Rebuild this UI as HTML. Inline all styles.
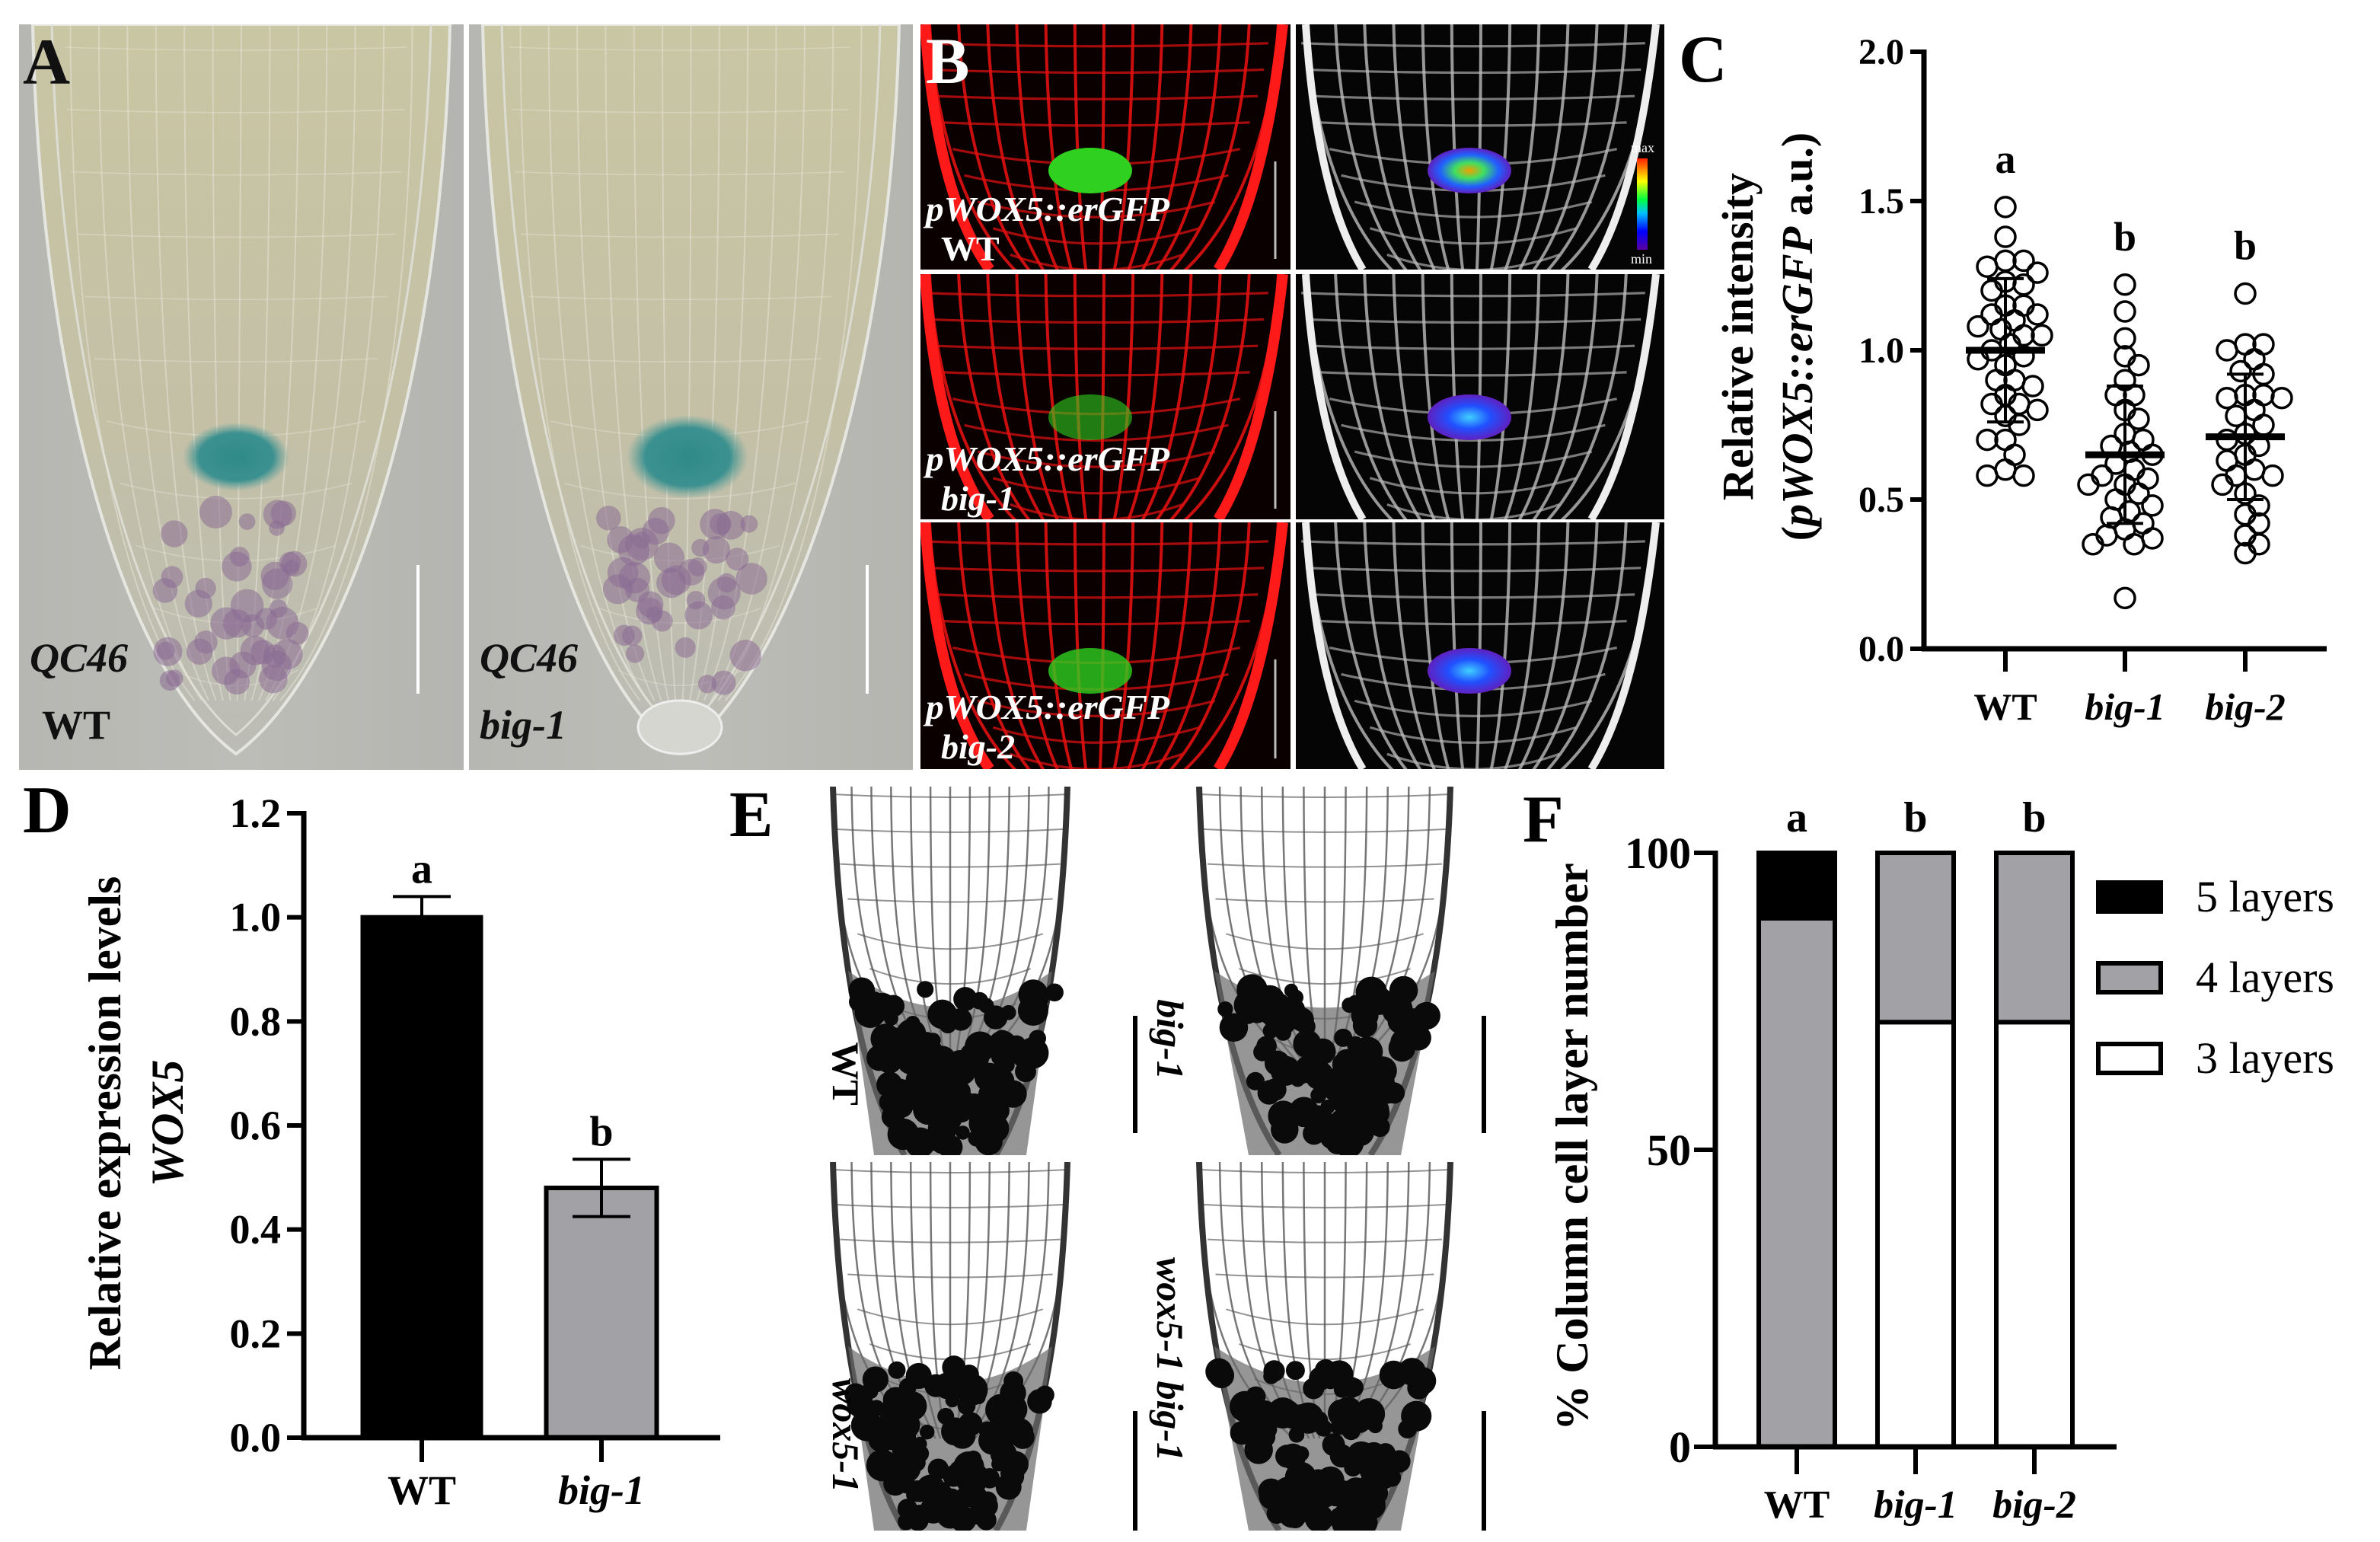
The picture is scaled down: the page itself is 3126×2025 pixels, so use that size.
<!DOCTYPE html>
<html><head><meta charset="utf-8"><style>
html,body{margin:0;padding:0;background:#fff}
svg{display:block}
text{font-family:"Liberation Serif",serif}
</style></head><body>
<svg id="fig" xmlns="http://www.w3.org/2000/svg" width="3126" height="2025" viewBox="0 0 3126 2025">
<defs>
<linearGradient id="gA" x1="0" y1="0" x2="0" y2="1"><stop offset="0" stop-color="#c9c6a4"/><stop offset="0.55" stop-color="#c3c0a6"/><stop offset="1" stop-color="#bcbcb6"/></linearGradient>
<linearGradient id="gBg" x1="0" y1="0" x2="1" y2="0"><stop offset="0" stop-color="#b6b6b2"/><stop offset="0.5" stop-color="#bdbdb8"/><stop offset="1" stop-color="#b4b4b0"/></linearGradient>
<linearGradient id="gBar" x1="0" y1="1" x2="0" y2="0"><stop offset="0" stop-color="#5a00a0"/><stop offset="0.2" stop-color="#0000ff"/><stop offset="0.4" stop-color="#00c0ff"/><stop offset="0.55" stop-color="#00ff40"/><stop offset="0.75" stop-color="#ffff00"/><stop offset="1" stop-color="#ff2000"/></linearGradient>
<radialGradient id="gQC" cx="0.5" cy="0.5" r="0.5"><stop offset="0" stop-color="#2f8a88"/><stop offset="0.7" stop-color="#3c9190"/><stop offset="1" stop-color="#5da09a" stop-opacity="0"/></radialGradient>
<radialGradient id="gRain" cx="0.5" cy="0.5" r="0.5"><stop offset="0" stop-color="#f0a000"/><stop offset="0.35" stop-color="#40e060"/><stop offset="0.7" stop-color="#2060ff"/><stop offset="1" stop-color="#6020c0"/></radialGradient>
<radialGradient id="gRain2" cx="0.5" cy="0.5" r="0.5"><stop offset="0" stop-color="#40d0ff"/><stop offset="0.5" stop-color="#2050ff"/><stop offset="1" stop-color="#6020c0"/></radialGradient>
</defs>
<g id="images"></g>
<g id="chartC"></g>
<g id="chartD"></g>
<g id="chartF"></g>
</svg>
<script>
// ---------- data ----------
const cCategories = ["WT","big-1","big-2"];
const cWT = [1.48,1.38,1.30,1.28,1.30,1.26,1.23,1.20,1.22,1.15,1.15,1.12,1.12,1.10,1.08,1.07,1.05,1.05,1.02,1.00,0.98,0.97,0.95,0.90,0.90,0.88,0.85,0.82,0.82,0.80,0.78,0.75,0.70,0.70,0.65,0.60,0.58,0.58];
const cBig1 = [1.22,1.13,1.04,0.98,0.95,0.90,0.85,0.85,0.80,0.77,0.72,0.70,0.68,0.66,0.65,0.62,0.60,0.58,0.57,0.55,0.55,0.52,0.50,0.48,0.46,0.44,0.42,0.40,0.38,0.37,0.35,0.35,0.17];
const cBig2 = [1.19,1.02,1.02,1.00,0.97,0.93,0.92,0.85,0.85,0.84,0.84,0.80,0.78,0.75,0.72,0.70,0.68,0.65,0.63,0.60,0.58,0.58,0.55,0.52,0.48,0.45,0.42,0.38,0.35,0.32];
const cMeans = [1.00,0.65,0.71];
const cSD = [0.24,0.23,0.21];
const cLetters = ["a","b","b"];
const cTicks = [0,0.5,1.0,1.5,2.0];
const cTickLabels = ["0.0","0.5","1.0","1.5","2.0"];

const dCategories = ["WT","big-1"];
const dValues = [1.0,0.48];
const dErrors = [0.04,0.055];
const dLetters = ["a","b"];
const dTicks = [0,0.2,0.4,0.6,0.8,1.0,1.2];
const dTickLabels = ["0.0","0.2","0.4","0.6","0.8","1.0","1.2"];

const fCategories = ["WT","big-1","big-2"];
const f3layers = [0,71.5,71.5];
const f4layers = [89,28.5,28.5];
const f5layers = [11,0,0];
const fLetters = ["a","b","b"];
const fTicks = [0,50,100];
const fLegend = ["5 layers","4 layers","3 layers"];

// ---------- helpers ----------
const NS="http://www.w3.org/2000/svg";
function mk(parent,tag,attrs,txt){const e=document.createElementNS(NS,tag);for(const k in attrs)e.setAttribute(k,attrs[k]);if(txt!==undefined)e.textContent=txt;parent.appendChild(e);return e;}
let seed=12345;function rnd(){seed=(seed*1103515245+12345)%2147483648;return seed/2147483648;}

// ---------- microscopy approximations ----------
const IM=document.getElementById('images');
function rootLines(g,x0,y0,w,h,cx,tipY,color,sw,op){
  const n=12;
  for(let i=0;i<=n;i++){
    const t=i/n; const xt=x0+w*0.04+t*w*0.92;
    const xb=cx+(xt-cx)*0.25;
    mk(g,'path',{d:`M${xt} ${y0} C ${xt} ${y0+h*0.45}, ${xb+(xt-cx)*0.5} ${tipY-h*0.15}, ${xb} ${tipY}`,fill:'none',stroke:color,'stroke-width':sw,opacity:op});
  }
  for(let y=y0+30;y<tipY;y+=h/11){
    const k=(y-y0)/(tipY-y0); const half=w*0.46*(1-k*k*0.7);
    mk(g,'path',{d:`M${cx-half} ${y} Q ${cx} ${y+ (k>0.5?40:8)} ${cx+half} ${y}`,fill:'none',stroke:color,'stroke-width':sw*0.8,opacity:op*0.8});
  }
}
function clipRect(id,x,y,w,h){const d=document.querySelector('defs');const c=mk(d,'clipPath',{id:id});mk(c,'rect',{x:x,y:y,width:w,height:h});return `url(#${id})`;}

function panelA(x,w,cx,qc,name,geno,cap){
  const g=mk(IM,'g',{'clip-path':clipRect('clip'+name,x,32,w,979)});
  
  mk(g,'rect',{x:x,y:32,width:w,height:979,fill:'url(#gBg)'});
  const l=x+18,r=x+w-18;
  mk(g,'path',{d:`M${l} 32 C ${l+10} 500, ${cx-150} 880, ${cx} 990 C ${cx+150} 880, ${r-10} 500, ${r} 32 Z`,fill:'url(#gA)',stroke:'#e6e6e0','stroke-width':4});
  mk(g,'path',{d:`M${l+25} 32 C ${l+35} 480, ${cx-130} 860, ${cx} 965 C ${cx+130} 860, ${r-35} 480, ${r-25} 32`,fill:'none',stroke:'#dcdcd2','stroke-width':3});
  rootLines(g,l+30,32,r-l-60,900,cx,920,'#e8e6da',2,0.5);
  mk(g,'ellipse',{cx:qc[0],cy:qc[1],rx:qc[2],ry:qc[3],fill:'url(#gQC)'});
  seed=name.length*999;
  for(let i=0;i<40;i++){const px=cx-95+rnd()*190, py=qc[1]+70+rnd()*230; mk(g,'circle',{cx:px,cy:py,r:10+rnd()*12,fill:'#8b6c94',opacity:0.55});}
  if(cap) mk(g,'ellipse',{cx:cx,cy:955,rx:55,ry:35,fill:'#d6d6d0',stroke:'#eee','stroke-width':3});
  mk(g,'line',{x1:x+w-60,y1:742,x2:x+w-60,y2:911,stroke:'#fff','stroke-width':4});
  mk(g,'text',{x:x+14,y:882,'font-size':54,'font-style':'italic','font-weight':'bold',fill:'#111'},'QC46');
  mk(g,'text',{x:x+(geno==='WT'?30:14),y:970,'font-size':54,'font-style':geno==='WT'?'normal':'italic','font-weight':'bold',fill:'#111'},geno);
}
panelA(25,584,310,[310,600,70,45],'image-a-wt','WT',false);
panelA(616,583,893,[903,600,80,55],'image-a-big1','big-1',true);
mk(IM,'text',{x:30,y:110,'font-size':86,'font-weight':'bold',fill:'#111',},'A');

const bRows=[[32,322],[360,322],[686,324]];
const bGeno=['WT','big-1','big-2'];
const bBlob=[[224,1],[548,0.6],[881,0.8]];
bRows.forEach((rw,i)=>{
  const y=rw[0],h=rw[1];
  let g=mk(IM,'g',{'clip-path':clipRect('clipBr'+i,1209,y,486,h)});
  
  mk(g,'rect',{x:1209,y:y,width:486,height:h,fill:'#0a0000'});
  rootLines(g,1200,y-40,500,h+60,1440,y+h+40,'#e01010',4,0.9);
  mk(g,'path',{d:`M1215 ${y} Q 1230 ${y+h*0.7} 1300 ${y+h}`,fill:'none',stroke:'#ff1a1a','stroke-width':14});
  mk(g,'path',{d:`M1685 ${y} Q 1660 ${y+h*0.7} 1600 ${y+h}`,fill:'none',stroke:'#ff1a1a','stroke-width':14});
  mk(g,'ellipse',{cx:1432,cy:bBlob[i][0],rx:55,ry:30,fill:'#30d020',opacity:bBlob[i][1]});
  mk(g,'line',{x1:1675,y1:y+180,x2:1675,y2:y+h-14,stroke:'#bbb','stroke-width':3});
  mk(g,'text',{x:1216,y:y+258,'font-size':46,'font-style':'italic','font-weight':'bold',fill:'#fff',textLength:320,lengthAdjust:'spacingAndGlyphs'},'pWOX5::erGFP');
  mk(g,'text',{x:1236,y:y+310,'font-size':46,'font-style':bGeno[i]==='WT'?'normal':'italic','font-weight':'bold',fill:'#fff'},bGeno[i]);
  g=mk(IM,'g',{'clip-path':clipRect('clipBg'+i,1702,y,484,h)});
  
  mk(g,'rect',{x:1702,y:y,width:484,height:h,fill:'#050505'});
  rootLines(g,1695,y-40,500,h+60,1935,y+h+40,'#bbbbbb',4,0.8);
  mk(g,'path',{d:`M1715 ${y} Q 1730 ${y+h*0.7} 1790 ${y+h}`,fill:'none',stroke:'#eee','stroke-width':10});
  mk(g,'path',{d:`M2175 ${y} Q 2150 ${y+h*0.7} 2090 ${y+h}`,fill:'none',stroke:'#eee','stroke-width':10});
  mk(g,'ellipse',{cx:1930,cy:bBlob[i][0],rx:55,ry:30,fill:i===0?'url(#gRain)':'url(#gRain2)'});
});
mk(IM,'rect',{x:2150,y:208,width:14,height:120,fill:'url(#gBar)',});
mk(IM,'text',{x:2142,y:200,'font-size':18,fill:'#fff'},'max');
mk(IM,'text',{x:2142,y:346,'font-size':18,fill:'#fff'},'min');
mk(IM,'text',{x:1216,y:109,'font-size':86,'font-weight':'bold',fill:'#fff',},'B');

const eImgs=[[1064,1033,'WT'],[1545,1033,'big-1'],[1064,1526,'wox5-1'],[1545,1526,'wox5-1 big-1']];
eImgs.forEach((im,i)=>{
  const x=im[0],y=im[1],w=i%2?390:368,h=484;
  const g=mk(IM,'g',{'clip-path':clipRect('clipE'+i,x,y,w,h)});
  
  mk(g,'rect',{x:x,y:y,width:w,height:h,fill:'#fff'});
  const cx=x+w/2;
  rootLines(g,x+15,y-20,w-30,h+20,cx,y+h*0.75,'#555',2.5,0.8);
  mk(g,'path',{d:`M${x+30} ${y} Q ${x+40} ${y+h*0.7} ${cx-60} ${y+h}`,fill:'none',stroke:'#333','stroke-width':8});
  mk(g,'path',{d:`M${x+w-30} ${y} Q ${x+w-40} ${y+h*0.7} ${cx+60} ${y+h}`,fill:'none',stroke:'#333','stroke-width':8});
  mk(g,'path',{d:`M${x+50} ${y+h*0.5} Q ${cx} ${y+h*0.7} ${x+w-50} ${y+h*0.5} L ${cx+100} ${y+h} L ${cx-100} ${y+h} Z`,fill:'#6a6a6a',opacity:0.7});
  seed=777+i*31;
  for(let k=0;k<110;k++){const t=rnd(); const py=y+h*0.55+t*h*0.43; const spread=(w*0.38)*(1-t*0.55); const px=cx+(rnd()*2-1)*spread; mk(g,'circle',{cx:px,cy:py,r:9+rnd()*12,fill:'#0a0a0a'});}
  const bx=x+w+(i%2?14:59);
  mk(IM,'line',{x1:bx,y1:y+(i<2?301:327),x2:bx,y2:y+(i<2?455:484),stroke:'#000','stroke-width':6});
});
[[1094,1410,'WT',false],[1520,1365,'big-1',true],[1094,1885,'wox5-1',true],[1520,1785,'wox5-1 big-1',true]].forEach(l=>{
  const t=mk(IM,'text',{x:l[0],y:l[1],'font-size':50,'font-weight':'bold','font-style':l[3]?'italic':'normal',fill:'#000','text-anchor':'middle',transform:`rotate(90 ${l[0]} ${l[1]})`},l[2]);
  
});
mk(IM,'text',{x:958,y:1098,'font-size':86,'font-weight':'bold',fill:'#000',},'E');

// ---------- Chart C ----------
(function(){
  const G=document.getElementById('chartC');
  const X0=2527,XE=3056,Y0=852,Y1=68,vmax=2;
  const yS=v=>Y0-(Y0-Y1)*v/vmax;
  const cx=[2634,2791,2949];
  mk(G,'text',{x:2205,y:107,'font-size':88,'font-weight':'bold',fill:'#000',},'C');
  mk(G,'line',{x1:X0,y1:Y1-3,x2:X0,y2:Y0+3,stroke:'#000','stroke-width':7,});
  mk(G,'line',{x1:X0-3,y1:Y0,x2:XE,y2:Y0,stroke:'#000','stroke-width':7,});
  cTicks.forEach((t,i)=>{
    mk(G,'line',{x1:X0-18,y1:yS(t),x2:X0,y2:yS(t),stroke:'#000','stroke-width':6});
    const e=mk(G,'text',{x:X0-26,y:yS(t)+16,'font-size':48,'font-weight':'bold','text-anchor':'end'},cTickLabels[i]);
    
  });
  const series=[cWT,cBig1,cBig2];
  const r=13;
  series.forEach((arr,si)=>{
    mk(G,'line',{x1:cx[si],y1:Y0,x2:cx[si],y2:Y0+30,stroke:'#000','stroke-width':6});
    const lab=mk(G,'text',{x:cx[si],y:945,'font-size':50,'font-weight':'bold','font-style':si?'italic':'normal','text-anchor':'middle'},cCategories[si]);
    
    const placed=[];
    const sorted=arr.slice().sort((a,b)=>b-a);
    sorted.forEach(v=>{
      const py=yS(v);let px=cx[si];let best=null,bestD=-1;
      for(let k=0;k<19;k++){
        const off=(k%2?1:-1)*Math.ceil(k/2)*6;
        const tx=cx[si]+off;
        const dmin=placed.length?Math.min(...placed.map(p=>Math.hypot(p[0]-tx,p[1]-py))):999;
        if(dmin>=1.6*r){best=tx;break;}
        if(dmin>bestD){bestD=dmin;best=tx;}
      }
      px=best;
      placed.push([px,py]);
      const c=mk(G,'circle',{cx:px,cy:py,r:r,fill:'none',stroke:'#000','stroke-width':3.5});
      
    });
    const m=cMeans[si],s=cSD[si];
    mk(G,'line',{x1:cx[si],y1:yS(m+s),x2:cx[si],y2:yS(m-s),stroke:'#000','stroke-width':4});
    mk(G,'line',{x1:cx[si]-24,y1:yS(m+s),x2:cx[si]+24,y2:yS(m+s),stroke:'#000','stroke-width':4});
    mk(G,'line',{x1:cx[si]-24,y1:yS(m-s),x2:cx[si]+24,y2:yS(m-s),stroke:'#000','stroke-width':4});
    const mb=mk(G,'line',{x1:cx[si]-52,y1:yS(m),x2:cx[si]+52,y2:yS(m),stroke:'#000','stroke-width':9});
    
    const topv=Math.max(...arr);
    mk(G,'text',{x:cx[si],y:yS(topv)-45,'font-size':54,'font-weight':'bold','text-anchor':'middle'},cLetters[si]);
  });
  const t=mk(G,'text',{x:2302,y:442,'font-size':58,'font-weight':'bold','text-anchor':'middle',transform:'rotate(-90 2302 442)'},'Relative intensity');
  
  const t2=mk(G,'text',{x:2380,y:442,'font-size':58,'font-weight':'bold','text-anchor':'middle',transform:'rotate(-90 2380 442)'});
  
  mk(t2,'tspan',{},'(');mk(t2,'tspan',{'font-style':'italic'},'pWOX5::erGFP');mk(t2,'tspan',{},' a.u.)');
})();

// ---------- Chart D ----------
(function(){
  const G=document.getElementById('chartD');
  const X0=399,XE=946,Y0=1888,Y1=1068,vmax=1.2;
  const yS=v=>Y0-(Y0-Y1)*v/vmax;
  const cx=[554,790],bw=[155,145];
  mk(G,'text',{x:30,y:1093,'font-size':88,'font-weight':'bold',},'D');
  const fills=['#000','#a2a2a6'];
  dValues.forEach((v,i)=>{
    const b=mk(G,'rect',{x:cx[i]-bw[i]/2,y:yS(v),width:bw[i],height:Y0-yS(v),fill:fills[i],stroke:'#000','stroke-width':6});
    
    const e=dErrors[i];
    mk(G,'line',{x1:cx[i],y1:yS(v+e),x2:cx[i],y2:yS(i?v-e:v),stroke:'#000','stroke-width':4});
    mk(G,'line',{x1:cx[i]-38,y1:yS(v+e),x2:cx[i]+38,y2:yS(v+e),stroke:'#000','stroke-width':4});
    if(i) mk(G,'line',{x1:cx[i]-38,y1:yS(v-e),x2:cx[i]+38,y2:yS(v-e),stroke:'#000','stroke-width':4});
    mk(G,'text',{x:cx[i],y:yS(v+e)-18,'font-size':56,'font-weight':'bold','text-anchor':'middle'},dLetters[i]);
    mk(G,'line',{x1:cx[i],y1:Y0,x2:cx[i],y2:Y0+32,stroke:'#000','stroke-width':6});
    const l=mk(G,'text',{x:cx[i],y:1975,'font-size':54,'font-weight':'bold','font-style':i?'italic':'normal','text-anchor':'middle'},dCategories[i]);
    
  });
  mk(G,'line',{x1:X0,y1:Y1-3,x2:X0,y2:Y0+3,stroke:'#000','stroke-width':7,});
  mk(G,'line',{x1:X0-3,y1:Y0,x2:XE,y2:Y0,stroke:'#000','stroke-width':7,});
  dTicks.forEach((t,i)=>{
    mk(G,'line',{x1:X0-22,y1:yS(t),x2:X0,y2:yS(t),stroke:'#000','stroke-width':6});
    const e=mk(G,'text',{x:X0-30,y:yS(t)+18,'font-size':54,'font-weight':'bold','text-anchor':'end'},dTickLabels[i]);
    
  });
  const t=mk(G,'text',{x:158,y:1475,'font-size':60,'font-weight':'bold','text-anchor':'middle',transform:'rotate(-90 158 1475)'},'Relative expression levels');
  
  const t2=mk(G,'text',{x:240,y:1475,'font-size':60,'font-weight':'bold','font-style':'italic','text-anchor':'middle',transform:'rotate(-90 240 1475)'},'WOX5');
  
})();

// ---------- Chart F ----------
(function(){
  const G=document.getElementById('chartF');
  const X0=2253,XE=2780,Y0=1900,Y1=1120,vmax=100;
  const yS=v=>Y0-(Y0-Y1)*v/vmax;
  const cx=[2360,2516,2672],bw=100;
  mk(G,'text',{x:2000,y:1105,'font-size':88,'font-weight':'bold',},'F');
  fCategories.forEach((c,i)=>{
    const segs=[[f3layers[i],'#fff','3layers'],[f4layers[i],'#a2a2a6','4layers'],[f5layers[i],'#000','5layers']];
    let base=0;
    segs.forEach(s=>{
      if(s[0]>0){
        const r=mk(G,'rect',{x:cx[i]-bw/2,y:yS(base+s[0]),width:bw,height:yS(base)-yS(base+s[0]),fill:s[1],stroke:'#000','stroke-width':6});
        
      }
      base+=s[0];
    });
    mk(G,'text',{x:cx[i],y:1092,'font-size':56,'font-weight':'bold','text-anchor':'middle'},fLetters[i]);
    mk(G,'line',{x1:cx[i],y1:Y0,x2:cx[i],y2:Y0+36,stroke:'#000','stroke-width':6});
    const l=mk(G,'text',{x:cx[i],y:1993,'font-size':52,'font-weight':'bold','font-style':i?'italic':'normal','text-anchor':'middle'},c);
    
  });
  mk(G,'line',{x1:X0,y1:Y1-3,x2:X0,y2:Y0+3,stroke:'#000','stroke-width':7,});
  mk(G,'line',{x1:X0-3,y1:Y0,x2:XE,y2:Y0,stroke:'#000','stroke-width':7,});
  fTicks.forEach(t=>{
    mk(G,'line',{x1:X0-28,y1:yS(t),x2:X0,y2:yS(t),stroke:'#000','stroke-width':6});
    const e=mk(G,'text',{x:X0-32,y:yS(t)+20,'font-size':58,'font-weight':'bold','text-anchor':'end'},String(t));
    
  });
  const lf=['#000','#a2a2a6','#fff'];const ly=[1159,1265,1371];
  fLegend.forEach((s,i)=>{
    const r=mk(G,'rect',{x:2756,y:ly[i],width:82,height:38,fill:lf[i],stroke:'#000','stroke-width':6});
    
    const t=mk(G,'text',{x:2884,y:ly[i]+38,'font-size':58,fill:'#000'},s);
    
  });
  const t=mk(G,'text',{x:2085,y:1506,'font-size':60,'font-weight':'bold','text-anchor':'middle',transform:'rotate(-90 2085 1506)'},'% Column cell layer number');
  
})();
</script>
</body></html>
